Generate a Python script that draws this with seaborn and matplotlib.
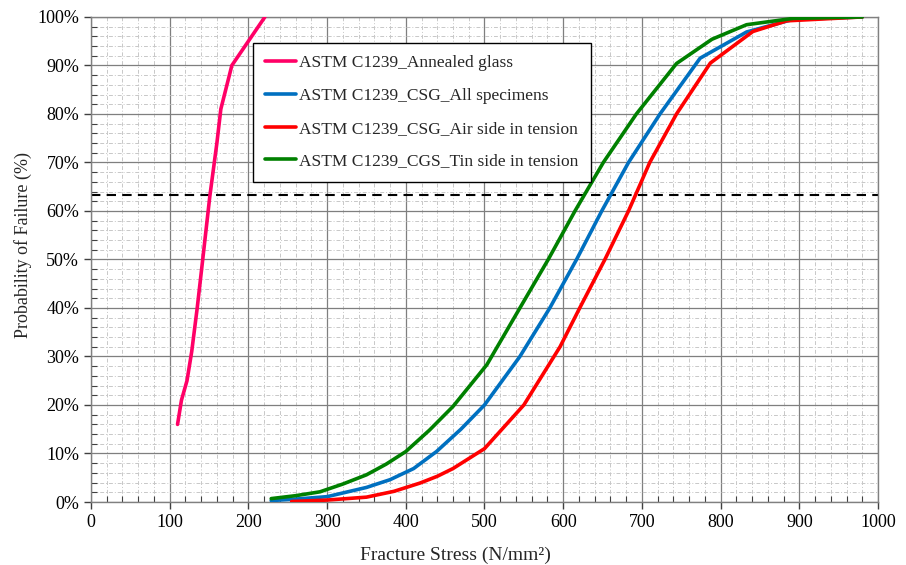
import numpy as np
import pandas as pd
import matplotlib
matplotlib.use("Agg")
import matplotlib.pyplot as plt
from matplotlib.ticker import MultipleLocator, FuncFormatter
import seaborn as sns

names = ["ASTM C1239_Annealed glass", "ASTM C1239_CSG_All specimens",
         "ASTM C1239_CSG_Air side in tension", "ASTM C1239_CGS_Tin side in tension"]
colors = ["#FF0066", "#0070C0", "#FF0000", "#008000"]

annealed_x = [110, 115, 122, 128, 135, 142, 151, 160, 165, 179, 200, 221]
annealed_y = [16, 21, 25, 31, 40, 50, 63, 74, 81, 90, 95, 100]

all_x = [229, 260, 300, 350, 380, 410, 439, 470, 500, 545, 583, 617, 649, 683, 723, 774, 833, 892, 980]
all_y = [0.3, 0.6, 1.1, 3.0, 4.6, 6.9, 10.4, 15, 20, 30, 40, 50, 60, 70, 80, 91.5, 96.9, 99.5, 100]

air_x = [255, 300, 350, 385, 418, 440, 460, 500, 550, 596, 621, 653, 683, 710, 744, 787, 841, 884, 980]
air_y = [0.1, 0.4, 1.0, 2.2, 3.9, 5.3, 6.9, 11, 20, 32, 40, 50, 60, 70, 80, 90.5, 97, 99.2, 100]

tin_x = [229, 260, 291, 320, 350, 375, 400, 430, 460, 503, 545, 581, 615, 651, 693, 744, 789, 833, 892, 980]
tin_y = [0.7, 1.3, 2.1, 3.7, 5.6, 7.8, 10.4, 14.8, 19.7, 28.3, 40, 50, 60, 70, 80, 90.4, 95.4, 98.4, 99.7, 100]

ref_level = 63.2

series = [(annealed_x, annealed_y), (all_x, all_y), (air_x, air_y), (tin_x, tin_y)]
frames = []
for n, (xs, ys) in zip(names, series):
    frames.append(pd.DataFrame({"stress": xs, "prob": ys, "series": n}))
df = pd.concat(frames, ignore_index=True)

sns.set_style("white")
plt.rcParams['font.family'] = ['Liberation Serif', 'DejaVu Serif']

fig = plt.figure(figsize=(9.06, 5.65), dpi=100)
ax = fig.add_axes([0.1004, 0.1115, 0.8687, 0.8585])

ax.axhline(ref_level, color="black", lw=1.5, ls=(0, (4.5, 3)), zorder=2)

for n, c in zip(names, colors):
    sub = df[df["series"] == n]
    sns.lineplot(data=sub, x="stress", y="prob", sort=False, estimator=None,
                 color=c, lw=2.6, ax=ax, label=n, zorder=3)

ax.set_xlim(0, 1000)
ax.set_ylim(0, 100)
ax.xaxis.set_major_locator(MultipleLocator(100))
ax.xaxis.set_minor_locator(MultipleLocator(20))
ax.yaxis.set_major_locator(MultipleLocator(10))
ax.yaxis.set_minor_locator(MultipleLocator(2))
ax.yaxis.set_major_formatter(FuncFormatter(lambda v, p: f"{v:.0f}%"))

ax.grid(which="major", color="#7f7f7f", lw=0.9, ls="-", zorder=0)
ax.grid(which="minor", color="#c8c8c8", lw=0.7, ls=(0, (4, 2, 1, 2)), zorder=0)
ax.set_axisbelow(True)

for s in ax.spines.values():
    s.set_color("#808080")
    s.set_linewidth(1.0)

ax.tick_params(which="major", direction="out", length=5, width=1, color="#404040",
               labelsize=13, labelcolor="black", bottom=True, left=True)
ax.tick_params(which="minor", direction="in", length=4, width=0.8, color="#404040",
               bottom=True, left=True)

ax.set_xlabel("Fracture Stress (N/mm²)", fontsize=14)
ax.set_ylabel("Probability of Failure (%)", fontsize=13)
ax.xaxis.set_label_coords(0.4635, -0.092)
ax.yaxis.set_label_coords(-0.075, 0.53)

leg = ax.legend(loc="upper left", bbox_to_anchor=(0.206, 0.946), frameon=True,
                fontsize=12.5, handlelength=1.8, handletextpad=0.15,
                labelspacing=0.95, borderpad=0.7, fancybox=False, borderaxespad=0)
leg.get_frame().set_edgecolor("black")
leg.get_frame().set_linewidth(1.0)
leg.get_frame().set_alpha(1)

fig.savefig("out.png", dpi=100)
